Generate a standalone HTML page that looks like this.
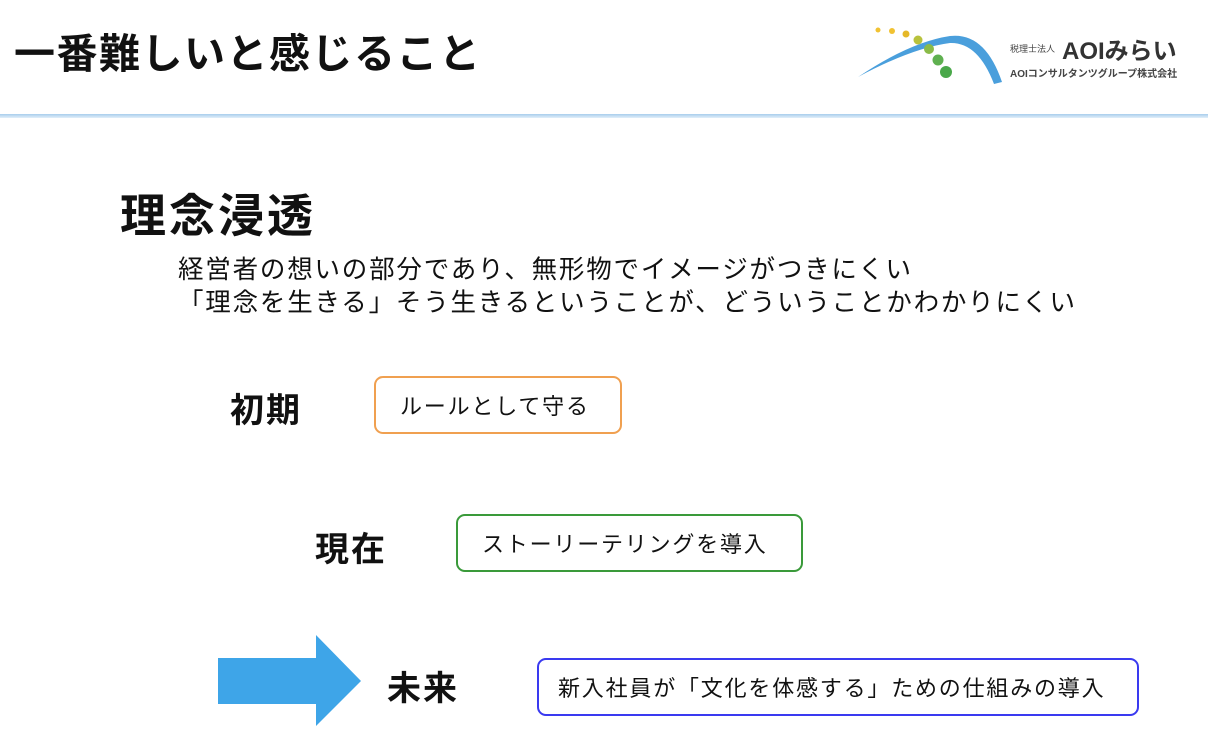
<!DOCTYPE html>
<html><head><meta charset="utf-8"><style>
body{margin:0;width:1208px;height:736px;background:#fff;position:relative;overflow:hidden;font-family:"Liberation Sans","Noto Sans CJK JP",sans-serif;color:#111}
.a{position:absolute;white-space:nowrap}
.b{position:absolute;border-radius:9px;border:2.5px solid;font-size:22px;letter-spacing:1.8px;display:flex;align-items:center;padding-left:24px;box-sizing:border-box}
</style></head><body>
<div class="a" style="left:14px;top:20px;font-size:41px;font-weight:bold;letter-spacing:1.5px">一番難しいと感じること</div>
<div style="position:absolute;left:0;top:114px;width:1208px;height:4px;background:linear-gradient(to bottom,#a8cdec,#e2effa)"></div>
<svg class="a" style="left:850px;top:20px" width="170" height="75">
<path d="M8 57 Q60 22 100 16 Q135 12 152 62 L144 64 Q128 22 100 23 Q62 28 8 57Z" fill="#4a9fdc"/>
<circle cx="28" cy="10" r="2.5" fill="#f1c232"/><circle cx="42" cy="11" r="3" fill="#f1c232"/><circle cx="56" cy="14" r="3.5" fill="#e5b828"/>
<circle cx="68" cy="20" r="4.5" fill="#b8c23c"/><circle cx="79" cy="29" r="5" fill="#8abb48"/><circle cx="88" cy="40" r="5.5" fill="#5fb050"/><circle cx="96" cy="52" r="6" fill="#4aa84a"/>
</svg>
<div class="a" style="left:1010px;top:42px;font-size:9px;color:#444">税理士法人</div>
<div class="a" style="left:1062px;top:31px;font-size:24px;font-weight:bold;color:#333">AOIみらい</div>
<div class="a" style="left:1010px;top:65px;font-size:10px;font-weight:bold;color:#444">AOIコンサルタンツグループ株式会社</div>
<div class="a" style="left:120px;top:180px;font-size:46px;font-weight:bold;letter-spacing:3px">理念浸透</div>
<div class="a" style="left:178px;top:254px;font-size:25.5px;line-height:33px;letter-spacing:1.8px">経営者の想いの部分であり、無形物でイメージがつきにくい<br>「理念を生きる」そう生きるということが、どういうことかわかりにくい</div>
<div class="a" style="left:230px;top:383px;font-size:34px;font-weight:bold;letter-spacing:2px">初期</div>
<div class="b" style="left:374px;top:376px;width:248px;height:58px;border-color:#f0a050">ルールとして守る</div>
<div class="a" style="left:315px;top:522px;font-size:34px;font-weight:bold;letter-spacing:2px">現在</div>
<div class="b" style="left:456px;top:514px;width:347px;height:58px;border-color:#3a9a3a">ストーリーテリングを導入</div>
<svg class="a" style="left:218px;top:635px" width="145" height="92"><path d="M0 23 H98 V0 L143 46 L98 91 V69 H0Z" fill="#3ea5e8"/></svg>
<div class="a" style="left:387px;top:661px;font-size:34px;font-weight:bold;letter-spacing:2px">未来</div>
<div class="b" style="left:537px;top:658px;width:602px;height:58px;border-color:#3a3af0;padding-left:19px">新入社員が「文化を体感する」ための仕組みの導入</div>
</body></html>
